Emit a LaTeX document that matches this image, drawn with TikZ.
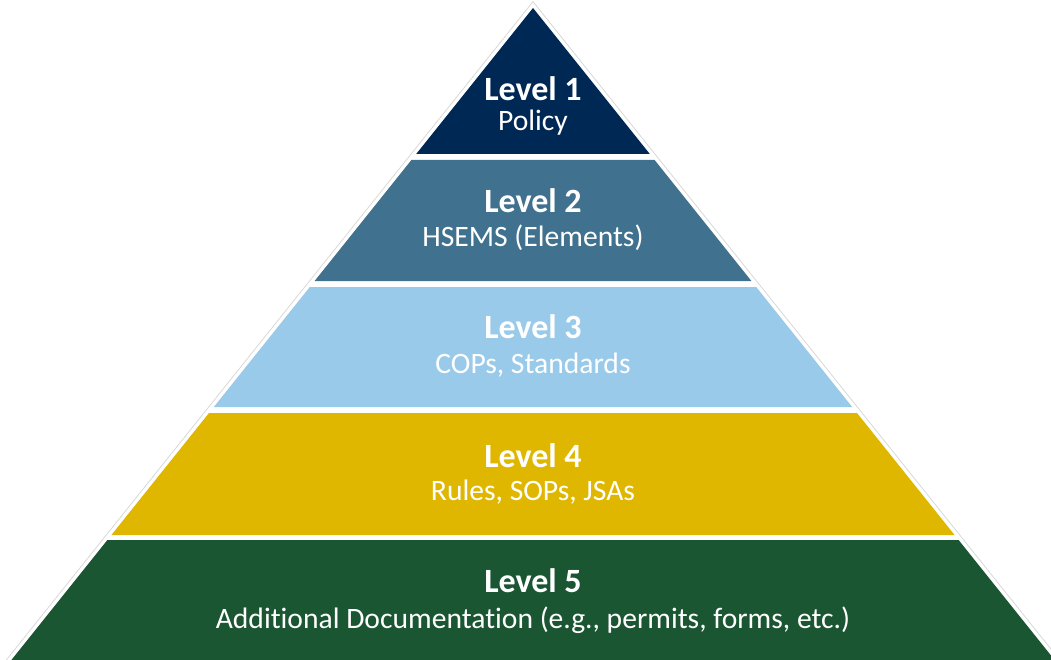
\documentclass[tikz,border=0pt]{standalone}
\usepackage{tikz}
\usepackage{fontspec}
\setmainfont{Carlito}[Ligatures=NoCommon]

\definecolor{lvlnavy}{RGB}{0,40,85}
\definecolor{lvlsteel}{RGB}{64,114,143}
\definecolor{lvlsky}{RGB}{153,202,234}
\definecolor{lvlgold}{RGB}{224,183,0}
\definecolor{lvlgreen}{RGB}{27,86,51}

\tikzset{
  lvltitle/.style={anchor=base, inner sep=0.75pt, text=white, font=\fontsize{25.5}{30}\selectfont\bfseries},
  lvlsub/.style={anchor=base, inner sep=0.75pt, text=white, font=\fontsize{22.2}{27}\selectfont}
}

\begin{document}
\begin{tikzpicture}[x=0.75pt,y=0.75pt,yscale=-1,xscale=1]
\useasboundingbox (0,0) rectangle (1051,660);
\clip (0,0) rectangle (1051,660);

%Outer outline
\draw [color={rgb, 255:red, 210; green, 210; blue, 210 }, line width=0.5]  (533,1.6) -- (1067.7,670) -- (-1.7,670) -- cycle ;

%Level 1
\fill [lvlnavy]  (533,8) -- (649.8,154) -- (416.2,154) -- cycle ;
%Level 2
\fill [lvlsteel]  (411.4,160) -- (654.6,160) -- (751.4,281) -- (314.6,281) -- cycle ;
%Level 3
\fill [lvlsky]  (309.8,287) -- (756.2,287) -- (852.2,407) -- (213.8,407) -- cycle ;
%Level 4
\fill [lvlgold]  (209,413) -- (857,413) -- (954.6,535) -- (111.4,535) -- cycle ;
%Level 5
\fill [lvlgreen]  (107.4,540) -- (958.6,540) -- (1062.6,670) -- (3.4,670) -- cycle ;

% Text Node
\node (titleone) at (533,101) [lvltitle] {Level 1};
% Text Node
\node (subone) at (533,131) [lvlsub] {Policy};
% Text Node
\node (titletwo) at (533,213) [lvltitle] {Level 2};
% Text Node
\node (subtwo) at (533,247) [lvlsub] {HSEMS (Elements)};
% Text Node
\node (titlethree) at (533,338) [lvltitle] {Level 3};
% Text Node
\node (subthree) at (533,373) [lvlsub] {COPs, Standards};
% Text Node
\node (titlefour) at (533,467) [lvltitle] {Level 4};
% Text Node
\node (subfour) at (533,500) [lvlsub] {Rules, SOPs, JSAs};
% Text Node
\node (titlefive) at (533,592) [lvltitle] {Level 5};
% Text Node
\node (subfive) at (533,628) [lvlsub] {Additional Documentation (e.g., permits, forms, etc.)};

\end{tikzpicture}
\end{document}
